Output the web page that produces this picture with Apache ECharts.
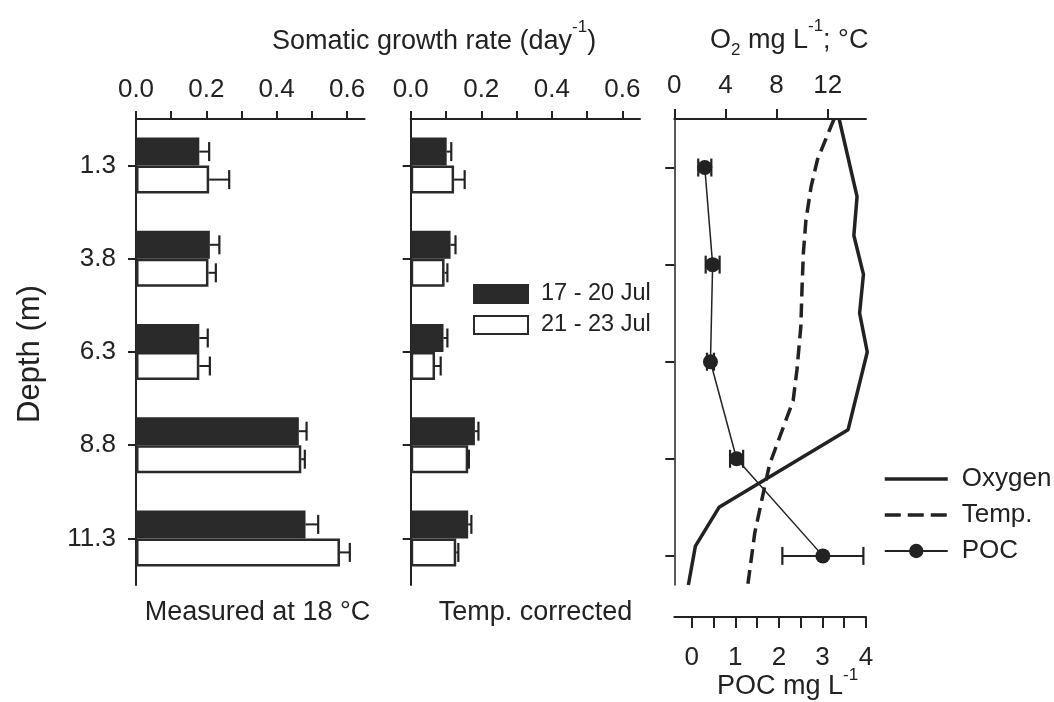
<!DOCTYPE html>
<html>
<head>
<meta charset="utf-8">
<script src="https://cdn.jsdelivr.net/npm/echarts@6/dist/echarts.min.js"></script>
<style>
  html, body { margin: 0; padding: 0; background: #fff; }
  #chart { width: 1054px; height: 702px; }
</style>
</head>
<body>
<div id="chart"></div>
<script>
// Sampling depths (m) shown on the bar panels
const depthLabels = ['1.3', '3.8', '6.3', '8.8', '11.3'];

// Somatic growth rate (day^-1) measured at 18 °C
const measuredJul17 = [0.180, 0.210, 0.180, 0.463, 0.482];
const measuredJul17Err = [0.028, 0.027, 0.024, 0.022, 0.036];
const measuredJul21 = [0.208, 0.206, 0.180, 0.470, 0.580];
const measuredJul21Err = [0.057, 0.021, 0.030, 0.010, 0.028];

// Somatic growth rate (day^-1), temperature corrected
const correctedJul17 = [0.102, 0.113, 0.093, 0.182, 0.163];
const correctedJul17Err = [0.013, 0.014, 0.011, 0.010, 0.009];
const correctedJul21 = [0.123, 0.096, 0.069, 0.163, 0.129];
const correctedJul21Err = [0.030, 0.008, 0.016, 0.002, 0.006];

// Depth profiles: [value, depth m]
const oxygenProfile = [[12.9, 0], [14.3, 2], [14.05, 3], [14.8, 4], [14.5, 5], [15.1, 6], [13.6, 8], [3.5, 10], [1.65, 11], [1.1, 12]];
const tempProfile = [[12.5, 0], [12.0, 0.4], [11.2, 1.05], [10.7, 1.75], [10.3, 2.6], [10.1, 3.45], [10.0, 4.3], [9.9, 5.35], [9.6, 6.45], [9.3, 7.25], [7.45, 8.9], [7.05, 9.5], [6.3, 10.65], [5.75, 12]];

// Particulate organic carbon (mg L^-1) with spread
const pocDepths = [1.25, 3.75, 6.25, 8.75, 11.25];
const pocValues = [0.30, 0.48, 0.43, 1.03, 3.01];
const pocErr = [0.15, 0.16, 0.08, 0.15, 0.93];

// Tick positions and labels
const growthTicks = [0, 0.1, 0.2, 0.3, 0.4, 0.5, 0.6];
const growthTickLabels = [0, 0.2, 0.4, 0.6];
const o2Ticks = [0, 4, 8, 12];
const pocTicks = [0, 0.5, 1, 1.5, 2, 2.5, 3, 3.5, 4];
const pocTickLabels = [0, 1, 2, 3, 4];
const profileDepthTicks = [1.25, 3.75, 6.25, 8.75, 11.25];

const INK = '#222';
const FONT = '"Liberation Sans", Arial, sans-serif';
const BAR_W = 28;
const TEMP_DASH = [14, 7];

function errRows(values, errs) {
  return values.map((v, i) => [v, i, errs[i]]);
}

// one-sided horizontal error bar at the end of a bar; side -1 = upper bar, +1 = lower bar
function barErrRenderer(side) {
  return function (params, api) {
    const v = api.value(0), i = api.value(1), e = api.value(2);
    const p0 = api.coord([v, i]);
    const p1 = api.coord([v + e, i]);
    const y = p0[1] + side * BAR_W / 2;
    const cap = 9.5;
    return {
      type: 'group',
      children: [
        { type: 'line', shape: { x1: p0[0], y1: y, x2: p1[0], y2: y }, style: { stroke: INK, lineWidth: 2 } },
        { type: 'line', shape: { x1: p1[0], y1: y - cap, x2: p1[0], y2: y + cap }, style: { stroke: INK, lineWidth: 2.2 } }
      ]
    };
  };
}

function pocErrRenderer(params, api) {
  const v = api.value(0), d = api.value(1), e = api.value(2);
  const a = api.coord([v - e, d]);
  const b = api.coord([v + e, d]);
  const cap = 9;
  return {
    type: 'group',
    children: [
      { type: 'line', shape: { x1: a[0], y1: a[1], x2: b[0], y2: b[1] }, style: { stroke: INK, lineWidth: 2 } },
      { type: 'line', shape: { x1: a[0], y1: a[1] - cap, x2: a[0], y2: a[1] + cap }, style: { stroke: INK, lineWidth: 2.2 } },
      { type: 'line', shape: { x1: b[0], y1: b[1] - cap, x2: b[0], y2: b[1] + cap }, style: { stroke: INK, lineWidth: 2.2 } }
    ]
  };
}

function growthAxis(grid) {
  return {
    type: 'value', gridIndex: grid, position: 'top', min: 0, max: 0.65,
    axisLine: { show: true, onZero: false, lineStyle: { color: INK, width: 2 } },
    axisTick: { show: true, length: 8, customValues: growthTicks, lineStyle: { color: INK, width: 2 } },
    axisLabel: { customValues: growthTickLabels, formatter: v => v.toFixed(1), color: INK, fontSize: 26, fontFamily: FONT, margin: 16 },
    splitLine: { show: false }
  };
}

function depthCategoryAxis(grid, showLabels) {
  return {
    type: 'category', gridIndex: grid, data: depthLabels, inverse: true,
    axisLine: { show: true, onZero: false, lineStyle: { color: INK, width: 2 } },
    axisTick: { show: true, alignWithLabel: true, length: 8, lineStyle: { color: INK, width: 2 } },
    axisLabel: { show: showLabels, color: INK, fontSize: 26, fontFamily: FONT, margin: 20 },
    splitLine: { show: false }
  };
}

const blackBar = { color: '#2a2a2a', borderColor: '#2a2a2a', borderWidth: 2 };
const whiteBar = { color: '#ffffff', borderColor: '#2a2a2a', borderWidth: 2.5 };

function barSeries(name, grid, values, style) {
  return {
    name, type: 'bar', xAxisIndex: grid, yAxisIndex: grid, data: values,
    barWidth: BAR_W, barGap: '0%', itemStyle: style
  };
}

function barErrSeries(grid, values, errs, side) {
  return {
    name: 'err', type: 'custom', xAxisIndex: grid, yAxisIndex: grid,
    data: errRows(values, errs), encode: { x: 0, y: 1 },
    renderItem: barErrRenderer(side), z: 5
  };
}

// line-only legend entries carry no marker
const noMarker = { opacity: 0 };

const option = {
  animation: false,
  backgroundColor: '#fff',
  textStyle: { fontFamily: FONT, color: INK },
  grid: [
    { left: 136, top: 119, width: 228.6, height: 466, containLabel: false, outerBoundsMode: 'none' },
    { left: 410.7, top: 119, width: 229.3, height: 466, containLabel: false, outerBoundsMode: 'none' },
    { left: 674.3, top: 119, width: 191.7, height: 466, containLabel: false, outerBoundsMode: 'none' }
  ],
  xAxis: [
    growthAxis(0),
    growthAxis(1),
    {
      type: 'value', gridIndex: 2, position: 'top', min: 0, max: 15,
      axisLine: { show: true, onZero: false, lineStyle: { color: INK, width: 2 } },
      axisTick: { show: true, length: 10, customValues: o2Ticks, lineStyle: { color: INK, width: 2 } },
      axisLabel: { customValues: o2Ticks, color: INK, fontSize: 26, fontFamily: FONT, margin: 20 },
      splitLine: { show: false }
    },
    {
      type: 'value', gridIndex: 2, position: 'bottom', offset: 32, min: -0.4, max: 4,
      axisLine: { show: true, onZero: false, lineStyle: { color: INK, width: 2 } },
      axisTick: { show: true, length: 11, customValues: pocTicks, lineStyle: { color: INK, width: 2 } },
      axisLabel: { customValues: pocTickLabels, color: INK, fontSize: 26, fontFamily: FONT, margin: 28 },
      splitLine: { show: false }
    }
  ],
  yAxis: [
    depthCategoryAxis(0, true),
    depthCategoryAxis(1, false),
    {
      type: 'value', gridIndex: 2, min: 0, max: 12, inverse: true,
      axisLine: { show: true, onZero: false, lineStyle: { color: INK, width: 1.5 } },
      axisTick: { show: true, length: 9, customValues: profileDepthTicks, lineStyle: { color: INK, width: 2 } },
      axisLabel: { show: false },
      splitLine: { show: false }
    }
  ],
  legend: [
    {
      data: ['17 - 20 Jul', '21 - 23 Jul'],
      orient: 'vertical', left: 473, top: 282, padding: 0,
      itemWidth: 54, itemHeight: 18, itemGap: 7,
      icon: 'rect',
      textStyle: { color: INK, fontSize: 23.5, fontFamily: FONT, lineHeight: 20, padding: [0, 0, 0, 8] },
      selectedMode: false
    },
    {
      data: [
        { name: 'Oxygen', itemStyle: noMarker, lineStyle: { width: 3.5, color: INK } },
        { name: 'Temp.', itemStyle: noMarker, lineStyle: { width: 3.5, color: INK, type: [16, 7] } },
        { name: 'POC', lineStyle: { width: 2, color: INK } }
      ],
      orient: 'vertical', left: 883, top: 466, padding: 0,
      itemWidth: 63, itemHeight: 18, itemGap: 10,
      textStyle: { color: INK, fontSize: 26, fontFamily: FONT, lineHeight: 26, padding: [0, 0, 0, 9] },
      selectedMode: false
    }
  ],
  series: [
    barSeries('17 - 20 Jul', 0, measuredJul17, blackBar),
    barSeries('21 - 23 Jul', 0, measuredJul21, whiteBar),
    barSeries('17 - 20 Jul', 1, correctedJul17, blackBar),
    barSeries('21 - 23 Jul', 1, correctedJul21, whiteBar),
    barErrSeries(0, measuredJul17, measuredJul17Err, -1),
    barErrSeries(0, measuredJul21, measuredJul21Err, 1),
    barErrSeries(1, correctedJul17, correctedJul17Err, -1),
    barErrSeries(1, correctedJul21, correctedJul21Err, 1),
    {
      name: 'Oxygen', type: 'line', xAxisIndex: 2, yAxisIndex: 2, data: oxygenProfile,
      symbol: 'none', clip: false, itemStyle: { color: INK },
      lineStyle: { color: INK, width: 3.5 }
    },
    {
      name: 'Temp.', type: 'line', xAxisIndex: 2, yAxisIndex: 2, data: tempProfile,
      symbol: 'none', clip: false, itemStyle: { color: INK },
      lineStyle: { color: INK, width: 3.5, type: TEMP_DASH }
    },
    {
      name: 'POC', type: 'line', xAxisIndex: 3, yAxisIndex: 2,
      data: pocValues.map((v, i) => [v, pocDepths[i]]),
      symbol: 'circle', symbolSize: 15, clip: false,
      itemStyle: { color: INK }, lineStyle: { color: INK, width: 1.5 }, z: 4
    },
    {
      name: 'POC spread', type: 'custom', xAxisIndex: 3, yAxisIndex: 2,
      data: pocValues.map((v, i) => [v, pocDepths[i], pocErr[i]]),
      encode: { x: 0, y: 1 }, renderItem: pocErrRenderer, z: 3
    }
  ],
  graphic: [
    {
      type: 'text', x: 272, y: 42,
      style: {
        text: '{a|Somatic growth rate (day}{s|-1}{a|)}',
        verticalAlign: 'middle', fill: INK,
        rich: {
          a: { fontSize: 27, fontFamily: FONT, fill: INK, lineHeight: 47 },
          s: { fontSize: 17, fontFamily: FONT, fill: INK, lineHeight: 17, padding: [0, 0, 30, 0] }
        }
      }
    },
    {
      type: 'text', x: 710, y: 41,
      style: {
        text: '{a|O}{b|2}{a| mg L}{s|-1}{a|; °C}',
        verticalAlign: 'middle', fill: INK,
        rich: {
          a: { fontSize: 27, fontFamily: FONT, fill: INK, lineHeight: 47 },
          b: { fontSize: 17, fontFamily: FONT, fill: INK, lineHeight: 17, padding: [24, 0, 6, 0] },
          s: { fontSize: 17, fontFamily: FONT, fill: INK, lineHeight: 17, padding: [0, 0, 30, 0] }
        }
      }
    },
    {
      type: 'text', x: 717, y: 687,
      style: {
        text: '{a|POC mg L}{s|-1}',
        verticalAlign: 'middle', fill: INK,
        rich: {
          a: { fontSize: 27, fontFamily: FONT, fill: INK, lineHeight: 40 },
          s: { fontSize: 17, fontFamily: FONT, fill: INK, lineHeight: 17, padding: [0, 0, 23, 0] }
        }
      }
    },
    {
      type: 'text', x: 257.5, y: 613,
      style: { text: 'Measured at 18 °C', fontSize: 27, fontFamily: FONT, fill: INK, align: 'center', verticalAlign: 'middle' }
    },
    {
      type: 'text', x: 535.5, y: 613,
      style: { text: 'Temp. corrected', fontSize: 27, fontFamily: FONT, fill: INK, align: 'center', verticalAlign: 'middle' }
    },
    {
      type: 'text', x: 30, y: 354, rotation: Math.PI / 2,
      style: { text: 'Depth (m)', fontSize: 31, fontFamily: FONT, fill: INK, align: 'center', verticalAlign: 'middle' }
    }
  ]
};

const chart = echarts.init(document.getElementById('chart'), null, { renderer: 'canvas' });
chart.setOption(option);
</script>
</body>
</html>
